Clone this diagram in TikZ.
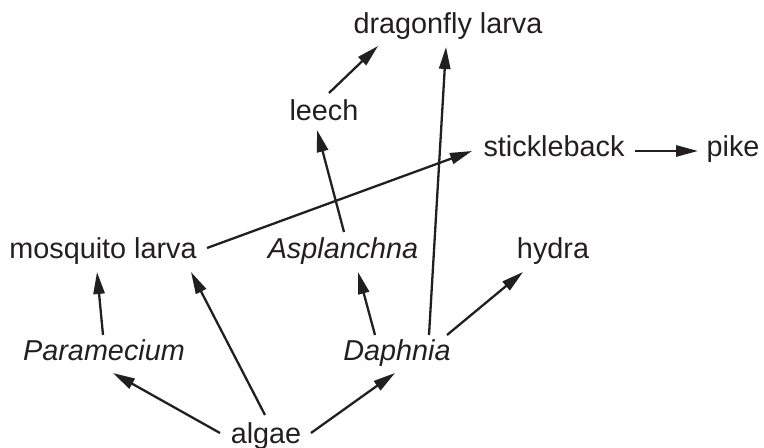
\documentclass[tikz,border=0pt]{standalone}
\usepackage{fontspec}
\setmainfont{Liberation Sans}
\usepackage{xcolor}
\usetikzlibrary{arrows.meta}
\definecolor{ink}{RGB}{35,31,32}

\begin{document}
\begin{tikzpicture}[x=0.5pt, y=-0.5pt, >={Triangle[length=11pt,width=5.6pt]}, sp node/.style={font=\fontsize{14.4}{17}\selectfont, text=ink, anchor=base, inner sep=0pt}, it node/.style={sp node, font=\fontsize{14.4}{17}\selectfont\itshape}, link/.style={->, ink, line width=1.15pt}]
\useasboundingbox (0,0) rectangle (764,448);
\node[sp node] (dfl) at (448,34) {dragonfly larva};
\node[sp node] (leech) at (324,121) {leech};
\node[sp node] (stick) at (554,157) {stickleback};
\node[sp node] (pike) at (733,157) {pike};
\node[sp node] (mosq) at (103,259) {mosquito larva};
\node[it node] (asp) at (343,259) {Asplanchna};
\node[sp node] (hydra) at (553,259) {hydra};
\node[it node] (para) at (104,360) {Paramecium};
\node[it node] (daph) at (397,360) {Daphnia};
\node[sp node] (algae) at (266,443) {algae};
\path[link]
([shift={(5,-28)}]leech.base) edge ([shift={(-70,12)}]dfl.base)
([shift={(32,-25)}]daph.base) edge ([shift={(-2,13)}]dfl.base)
([shift={(1,-27)}]asp.base) edge ([shift={(-7,9)}]leech.base)
([shift={(104,-11)}]mosq.base) edge ([shift={(-82,-6)}]stick.base)
([shift={(81,-6)}]stick.base) edge ([shift={(-35,-6)}]pike.base)
([shift={(-1,-25)}]para.base) edge ([shift={(-6,13)}]mosq.base)
([shift={(-1,-28)}]algae.base) edge ([shift={(88,13)}]mosq.base)
([shift={(-22,-25)}]daph.base) edge ([shift={(15,13)}]asp.base)
([shift={(50,-25)}]daph.base) edge ([shift={(-30,13)}]hydra.base)
([shift={(-46,-10)}]algae.base) edge ([shift={(9,13)}]para.base)
([shift={(45,-10)}]algae.base) edge ([shift={(-2,13)}]daph.base);
\end{tikzpicture}
\end{document}
